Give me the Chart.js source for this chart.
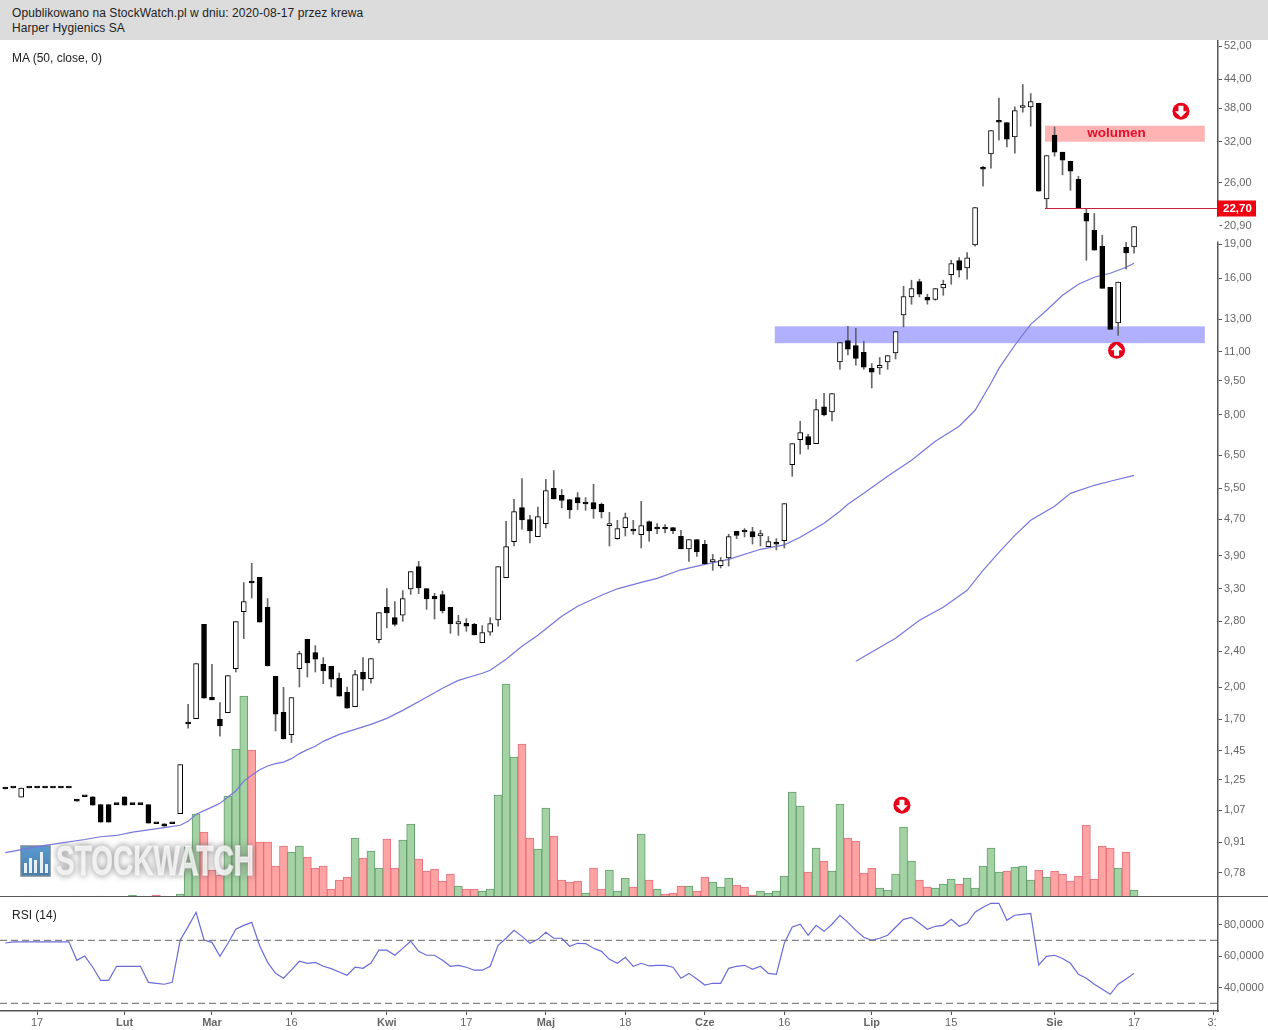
<!DOCTYPE html>
<html>
<head>
<meta charset="utf-8">
<title>Harper Hygienics SA</title>
<script src="https://cdn.jsdelivr.net/npm/chart.js@4"></script>
<style>
  body { margin: 0; background: #fff; font: 12px "Liberation Sans", Arial, sans-serif; color: #222; }
  #head { position: absolute; left: 0; top: 0; width: 1268px; height: 40px; background: #dcdcdc; }
  #head div { position: absolute; left: 12px; letter-spacing: 0.08px; }
  .tag { position: absolute; left: 12px; }
  canvas { position: absolute; left: 0; }
  #sep { position: absolute; left: 0; top: 896px; width: 1268px; height: 1px; background: #555; }
</style>
</head>
<body>
<div id="head">
  <div style="top:6px">Opublikowano na StockWatch.pl w dniu: 2020-08-17 przez krewa</div>
  <div style="top:21px">Harper Hygienics SA</div>
</div>
<canvas id="priceChart" width="1268" height="857" style="top:40px"></canvas>
<canvas id="rsiChart" width="1268" height="133" style="top:897px"></canvas>
<div id="sep"></div>
<div class="tag" style="top:51px">MA (50, close, 0)</div>
<div class="tag" style="top:908px">RSI (14)</div>
<script>
const opens = [1.203,1.199,1.145,1.199,1.199,1.199,1.199,1.199,1.199,1.132,1.147,1.147,1.102,1.102,1.102,1.147,1.102,1.102,1.102,1.000,1.000,1.000,1.052,1.671,1.706,2.755,1.901,1.700,1.759,2.199,
  2.939,3.423,3.499,3.004,2.115,1.761,1.573,2.199,2.553,2.386,2.248,2.225,2.094,1.950,1.813,2.158,2.090,2.549,3.004,2.850,2.888,3.297,3.694,3.303,3.177,3.204,3.004,2.759,2.769,2.755,
  2.510,2.649,2.816,3.493,4.195,4.986,4.691,4.303,4.597,5.501,5.308,5.193,5.246,5.123,5.115,5.071,4.550,4.259,4.504,4.466,4.347,4.644,4.504,4.511,4.504,4.309,4.040,4.238,4.138,3.782,
  3.713,3.859,4.420,4.436,4.414,4.316,4.090,4.159,4.216,6.205,7.046,7.154,6.904,8.324,8.107,10.45,11.65,11.36,10.98,10.12,10.14,10.45,10.94,13.27,14.55,15.73,14.52,14.36,15.23,16.30,
  17.50,16.86,18.95,28.13,30.10,35.54,35.30,32.81,38.10,38.22,38.94,23.94,33.10,30.36,29.00,26.46,22.26,20.42,18.82,15.28,12.75,18.73,18.76];
const highs = [1.203,1.199,1.199,1.199,1.199,1.199,1.199,1.199,1.199,1.132,1.147,1.147,1.102,1.102,1.102,1.147,1.102,1.102,1.102,1.000,1.000,1.000,1.350,1.834,2.256,2.755,2.248,1.850,2.123,2.793,
  3.406,3.757,3.499,3.140,2.115,2.000,1.898,2.402,2.553,2.472,2.326,2.225,2.151,2.003,2.181,2.326,2.314,2.924,3.303,3.092,3.270,3.602,3.795,3.303,3.225,3.263,3.004,2.884,2.836,2.769,
  2.737,2.850,3.694,4.651,5.201,5.779,4.795,5.002,5.758,6.018,5.464,5.193,5.382,5.246,5.614,5.104,4.869,4.675,4.851,4.675,5.149,4.658,4.597,4.574,4.504,4.443,4.238,4.238,4.223,3.933,
  3.867,4.354,4.420,4.482,4.511,4.443,4.303,4.259,5.089,6.904,7.733,7.238,8.648,8.916,8.902,11.54,12.53,12.41,11.61,10.37,10.69,10.80,12.20,15.36,15.84,15.92,14.75,15.18,15.84,17.53,
  17.77,18.23,22.92,28.27,33.90,39.95,35.30,38.22,42.83,40.91,38.94,29.85,34.52,30.36,29.00,26.87,22.80,22.23,19.91,15.28,15.68,19.21,20.81];
const lows = [1.193,1.199,1.145,1.199,1.199,1.199,1.199,1.199,1.199,1.122,1.147,1.099,1.008,1.008,1.102,1.099,1.102,1.102,1.003,1.000,0.988,1.000,1.052,1.626,1.706,1.894,1.875,1.561,1.759,2.162,
  2.562,3.149,2.787,2.229,1.602,1.538,1.510,2.003,2.108,2.162,2.038,2.003,1.913,1.800,1.813,1.970,2.044,2.505,2.704,2.731,2.797,3.209,3.220,2.973,2.830,2.918,2.632,2.605,2.659,2.609,
  2.510,2.605,2.731,3.493,4.102,4.466,4.165,4.303,4.495,5.209,4.976,4.722,4.936,4.918,4.722,4.730,4.102,4.244,4.316,4.354,4.061,4.201,4.369,4.382,4.369,4.040,3.795,3.893,3.743,3.625,
  3.668,3.706,4.259,4.294,4.144,4.102,4.090,4.020,4.061,5.847,6.548,6.707,6.904,7.944,7.745,10.07,10.83,10.28,10.07,9.159,9.820,10.07,10.61,12.49,14.02,14.55,14.02,14.31,14.67,15.52,
  16.10,15.92,18.82,25.54,27.99,32.27,31.19,30.20,37.20,34.65,24.90,22.80,29.75,27.05,25.02,22.80,17.53,18.45,15.20,12.34,11.97,16.77,18.17];
const closes = [1.193,1.199,1.199,1.199,1.199,1.199,1.199,1.199,1.199,1.122,1.147,1.099,1.008,1.008,1.102,1.099,1.102,1.102,1.003,1.000,0.988,1.000,1.350,1.660,2.256,1.894,1.875,1.643,2.123,2.793,
  3.092,3.399,2.787,2.229,1.746,1.538,1.898,2.374,2.263,2.309,2.173,2.086,1.913,1.800,2.133,2.086,2.314,2.924,2.918,2.755,3.140,3.602,3.313,3.133,3.133,2.948,2.759,2.793,2.731,2.609,
  2.641,2.765,3.694,4.090,4.886,4.682,4.427,4.763,5.437,5.209,5.175,4.926,5.104,5.079,4.951,4.876,4.597,4.482,4.739,4.427,4.550,4.427,4.472,4.472,4.427,4.040,4.238,3.979,3.743,3.828,
  3.809,4.303,4.331,4.405,4.294,4.369,4.195,4.138,5.089,6.904,7.301,6.869,8.207,7.984,8.902,11.54,11.15,10.65,10.18,9.920,10.28,10.80,12.20,14.58,15.18,14.75,14.31,15.18,15.52,17.24,
  16.66,17.74,22.92,27.84,33.90,35.36,32.43,37.53,38.49,39.28,24.90,29.85,30.36,29.15,27.56,22.80,21.38,18.45,15.20,12.34,15.68,18.19,20.81];

const volumes = [0,0,0,1,0,0,0,0,0,1,0,0,1,0,0,0,2,1,0,2,1,0,3,50,83,65,27,22,101,148,
  201,147,55,55,31,51,45,51,40,29,31,8,17,20,59,39,46,29,58,29,57,73,38,26,28,16,23,11,8,8,
  6,8,102,213,140,153,59,48,89,61,17,15,16,4,29,8,27,6,19,10,63,17,8,3,4,11,11,6,20,15,
  10,19,12,10,2,6,4,6,21,105,91,25,49,36,26,93,59,56,24,29,9,7,23,70,36,17,10,9,13,18,
  13,19,9,31,49,25,26,30,31,17,27,20,26,23,16,21,72,18,51,49,29,45,7];
const volumeRed = [9,12,19,20,25,26,27,31,32,33,34,35,38,39,40,41,42,43,45,48,49,52,53,54,55,56,58,59,65,66,69,70,71,72,74,75,79,81,83,84,85,87,88,92,93,94,
  101,103,106,107,108,109,115,116,120,126,130,132,133,134,135,136,137,138,139,141];

const maIndex = [0,5,10,12,14,16,20,22,23,24,26,27,28,29,30,31,32,33,34,35,36,37,38,39,40,42,44,46,48,50,53,55,57,60,61,63,65,67,70,72,75,77,80,82,85,88,91,95,98,100,103,105,106,108,111,114,117,120,122,124,125,127,129,131,133,135,137,139,141,142];
const maValues = [0.863,0.896,0.923,0.936,0.942,0.958,0.980,0.992,1.012,1.049,1.088,1.109,1.145,1.181,1.242,1.279,1.316,1.341,1.357,1.368,1.392,1.428,1.457,1.482,1.520,1.575,1.615,1.657,1.708,1.779,1.901,1.990,2.072,2.148,2.181,2.306,2.464,2.605,2.869,3.019,3.193,3.300,3.411,3.481,3.635,3.738,3.834,4.034,4.127,4.288,4.604,4.894,5.071,5.362,5.847,6.342,6.985,7.539,8.177,9.381,10.12,11.38,12.66,13.60,14.67,15.52,16.08,16.41,16.92,17.27];
const ma2Index = [107,112,115,118,121,123,125,127,129,132,134,137,139,142];
const ma2Values = [2.283,2.566,2.812,3.004,3.275,3.625,3.973,4.331,4.675,5.019,5.362,5.585,5.700,5.876];

const rsiValues = [68.3,69,69,69,69,69,69,69,69,57.3,60,52.9,44.6,44.6,53.5,53.5,53.5,53.5,43.3,42.7,42.1,43.3,70,78.7,87.8,70.2,68.7,59.8,68,77,
  79.5,81.4,66.6,56,49,45.9,51.2,56.7,55.4,56,53.5,52,49.9,47.8,52.9,52.2,55.6,63.7,63.7,60.5,64.9,69.4,63,60.5,60.5,57.3,53.5,54.1,52.9,51,
  51,53.5,66.8,71.3,76.3,72.5,68.1,70.6,75.1,71.3,71.3,66.2,68.1,67.9,64.9,63,57.9,55.4,59.2,53.5,55.4,53.7,54.1,54.1,52.9,45.9,49,45.4,41.6,42.7,
  42.7,52.2,53.5,54.1,51.6,53.5,49,48.4,68.1,78.5,80.2,73.2,79.5,75.7,80.2,85.9,81.4,76.3,71.9,70,71.3,73.2,78.3,83.3,84.6,80.8,77,78.9,79.5,83.3,
  78.9,80.8,87.8,91,93.5,93.5,82.7,85.9,86.5,87.1,54.3,59.8,60.5,58.4,55.4,48.4,45.9,42.1,38.9,35.7,42.1,45.4,49];
const rsiLevels = [70, 30];

const priceTicks = [52,44,38,32,26,20.9,19,16,13,11,9.5,8,6.5,5.5,4.7,3.9,3.3,2.8,2.4,2,1.7,1.45,1.25,1.07,0.91,0.78];
const rsiTicks = [80,60,40];
const dateIndex = [4,15,26,36,48,58,68,78,88,98,109,119,132,142,152];
const dateLabels = ["17","Lut","Mar","16","Kwi","17","Maj","18","Cze","16","Lip","15","Sie","17","31"];
const monthLabels = ["Lut","Mar","Kwi","Maj","Cze","Lip","Sie"];

const level = 22.70;
const levelFrom = 130.8;
const blueZone = { from: 96.8, to: 150.9, low: 11.50, high: 12.53 };
const redZone = { from: 130.8, to: 150.9, low: 32.02, high: 34.74 };
const arrows = [
  { at: 139.8, price: 11.09, up: true },
  { at: 147.9, price: 37.39, up: false },
  { at: 112.8, price: 1.098, up: false },
];

const xMin = -0.667, xMax = 152.56;
const sansFont = '"Liberation Sans", Arial, sans-serif';
const comma = (v, d) => v.toFixed(d).replace(".", ",");
const isRed = new Set(volumeRed);

function drawArrow(ctx, x, y, up) {
  ctx.save();
  ctx.translate(x, y);
  if (!up) ctx.rotate(Math.PI);
  ctx.fillStyle = "#e8001a";
  ctx.beginPath();
  ctx.arc(0, 0, 8.5, 0, Math.PI * 2);
  ctx.fill();
  ctx.fillStyle = "#fff";
  ctx.beginPath();
  ctx.moveTo(0, -6);
  ctx.lineTo(6, 0);
  ctx.lineTo(2.5, 0);
  ctx.lineTo(2.5, 5.5);
  ctx.lineTo(-2.5, 5.5);
  ctx.lineTo(-2.5, 0);
  ctx.lineTo(-6, 0);
  ctx.closePath();
  ctx.fill();
  ctx.restore();
}

// logo sits over the volume bars but under the lines
function drawWatermark(ctx) {
  ctx.save();
  const g = ctx.createLinearGradient(0, 806, 0, 836);
  g.addColorStop(0, "#5a9ad0");
  g.addColorStop(1, "#4a7ea8");
  ctx.fillStyle = g;
  ctx.strokeStyle = "#7a8a98";
  ctx.lineWidth = 1.5;
  ctx.fillRect(21, 806, 29, 30);
  ctx.strokeRect(21, 806, 29, 30);
  ctx.fillStyle = "#e8f0f6";
  [[24, 10], [29, 15], [34, 13], [40, 21], [45, 9]].forEach(b => ctx.fillRect(b[0], 833 - b[1], 3, b[1]));
  ctx.font = "bold 42px " + sansFont;
  ctx.textBaseline = "alphabetic";
  ctx.shadowColor = "rgba(90,90,90,.75)";
  ctx.shadowBlur = 6;
  ctx.strokeStyle = "rgba(255,255,255,.7)";
  ctx.lineWidth = 2;
  ctx.lineJoin = "round";
  ctx.strokeText("STOCKWATCH", 56, 835, 198);
  ctx.fillStyle = "rgba(255,255,255,.78)";
  ctx.fillText("STOCKWATCH", 56, 835, 198);
  ctx.restore();
}

const pricePlugin = {
  id: "pricePlugin",
  beforeDatasetsDraw(chart) {
    const { ctx, scales: { x, y } } = chart;
    [[blueZone, "#b0b0ff"], [redZone, "#ffb3b3"]].forEach(([z, color]) => {
      ctx.fillStyle = color;
      ctx.fillRect(x.getPixelForValue(z.from), y.getPixelForValue(z.high),
        x.getPixelForValue(z.to) - x.getPixelForValue(z.from), y.getPixelForValue(z.low) - y.getPixelForValue(z.high));
    });
  },
  afterDatasetDraw(chart, args) {
    if (args.index === 0) drawWatermark(chart.ctx);
  },
  afterDraw(chart) {
    const { ctx, chartArea, scales: { x, y } } = chart;
    const ly = Math.round(y.getPixelForValue(level)) - 0.5;
    ctx.save();
    ctx.strokeStyle = "#c8203a";
    ctx.lineWidth = 1;
    ctx.beginPath();
    ctx.moveTo(x.getPixelForValue(levelFrom), ly);
    ctx.lineTo(chartArea.right, ly);
    ctx.stroke();
    // axis line breaks around the 22,70 tag
    ctx.fillStyle = "#fff";
    ctx.fillRect(chartArea.right - 2, ly + 8, 3.5, 25);
    ctx.fillStyle = "#f00010";
    ctx.fillRect(chartArea.right - 1, ly - 8, 39, 16);
    ctx.fillStyle = "#fff";
    ctx.font = "bold 11.5px " + sansFont;
    ctx.textBaseline = "middle";
    ctx.fillText(comma(level, 2), chartArea.right + 5, ly + 0.5);
    ctx.fillStyle = "#e0102f";
    ctx.font = "bold 13.5px " + sansFont;
    ctx.textAlign = "center";
    ctx.fillText("wolumen", x.getPixelForValue(139.8), y.getPixelForValue(33.5));
    ctx.restore();
    arrows.forEach(a => drawArrow(ctx, x.getPixelForValue(a.at), y.getPixelForValue(a.price), a.up));
  },
};

const index = opens.map((_, i) => i);
const upCandle = i => closes[i] > opens[i];

new Chart(document.getElementById("priceChart"), {
  data: {
    datasets: [
      {
        type: "bar", yAxisID: "vol", order: 5, grouped: false,
        data: index.map(i => ({ x: i, y: volumes[i] })),
        barThickness: 8, borderWidth: 1,
        backgroundColor: c => isRed.has(c.dataIndex) ? "#ffa3a3" : "#a4d2a4",
        borderColor: c => isRed.has(c.dataIndex) ? "#e4707e" : "#62a06c",
      },
      {
        type: "line", yAxisID: "y", order: 4,
        data: maIndex.map((m, i) => ({ x: m, y: maValues[i] })),
        borderColor: "#7676dc", borderWidth: 1.2, pointRadius: 0,
      },
      {
        type: "line", yAxisID: "y", order: 4,
        data: ma2Index.map((m, i) => ({ x: m, y: ma2Values[i] })),
        borderColor: "#7676dc", borderWidth: 1.2, pointRadius: 0,
      },
      {
        type: "bar", yAxisID: "y", order: 2, grouped: false,
        data: index.map(i => ({ x: i, y: [lows[i], highs[i]] })),
        barThickness: 1, backgroundColor: "#666",
      },
      {
        type: "bar", yAxisID: "y", order: 1, grouped: false,
        data: index.map(i => ({ x: i, y: [opens[i], closes[i]] })),
        barThickness: 5, minBarLength: 2, borderWidth: 1, borderSkipped: false,
        backgroundColor: c => upCandle(c.dataIndex) ? "#fff" : "#000",
        borderColor: "#000",
      },
    ],
  },
  options: {
    responsive: false,
    animation: false,
    events: [],
    layout: { padding: 0 },
    plugins: { legend: { display: false }, tooltip: { enabled: false } },
    scales: {
      x: { type: "linear", min: xMin, max: xMax, offset: false, display: false },
      vol: { type: "linear", min: 0, max: 857, display: false },
      y: {
        type: "logarithmic", position: "right", min: 0.689, max: 53.7,
        afterBuildTicks: s => { s.ticks = priceTicks.map(v => ({ value: v })); },
        afterFit: s => { s.width = 50; s.paddingTop = 0; s.paddingBottom = 0; },
        grid: { drawOnChartArea: false, tickLength: 4, tickColor: "#555" },
        border: { color: "#555", width: 1.5 },
        ticks: {
          autoSkip: false, padding: 2, color: "#666",
          font: { family: sansFont, size: 11 },
          callback: v => comma(v, 2),
        },
      },
    },
  },
  plugins: [pricePlugin],
});

const rsiPlugin = {
  id: "rsiPlugin",
  afterDraw(chart) {
    // the last date label is cut by the axis
    const { ctx, chartArea } = chart;
    ctx.fillStyle = "#fff";
    ctx.fillRect(chartArea.right - 2, chartArea.bottom + 6, 52, 30);
  },
};

new Chart(document.getElementById("rsiChart"), {
  type: "line",
  data: {
    datasets: [
      ...rsiLevels.map(v => ({
        data: [{ x: xMin, y: v }, { x: xMax, y: v }],
        borderColor: "#666", borderWidth: 1, borderDash: [7, 4], pointRadius: 0,
      })),
      {
        data: rsiValues.map((v, i) => ({ x: i, y: v })),
        borderColor: "#6a6ad8", borderWidth: 1.2, pointRadius: 0,
      },
    ],
  },
  options: {
    responsive: false,
    animation: false,
    events: [],
    layout: { padding: 0 },
    plugins: { legend: { display: false }, tooltip: { enabled: false } },
    scales: {
      x: {
        type: "linear", min: xMin, max: xMax,
        afterBuildTicks: s => { s.ticks = dateIndex.map(v => ({ value: v })); },
        afterFit: s => { s.height = 19; s.paddingLeft = 0; s.paddingRight = 0; },
        grid: { drawOnChartArea: false, tickLength: 4, tickColor: "#555" },
        border: { color: "#555", width: 1.5 },
        ticks: {
          autoSkip: false, maxRotation: 0, padding: 1, color: "#666",
          font: c => ({ family: sansFont, size: 11, weight: c.tick && monthLabels.includes(c.tick.label) ? "bold" : "normal" }),
          callback: (v, i) => dateLabels[i],
        },
      },
      y: {
        type: "linear", position: "right", min: 25.1, max: 97.5,
        afterBuildTicks: s => { s.ticks = rsiTicks.map(v => ({ value: v })); },
        afterFit: s => { s.width = 50; s.paddingTop = 0; s.paddingBottom = 0; },
        grid: { drawOnChartArea: false, tickLength: 4, tickColor: "#555" },
        border: { color: "#555", width: 1.5 },
        ticks: {
          padding: 2, color: "#666",
          font: { family: sansFont, size: 11 },
          callback: v => comma(v, 4),
        },
      },
    },
  },
  plugins: [rsiPlugin],
});
</script>
</body>
</html>
